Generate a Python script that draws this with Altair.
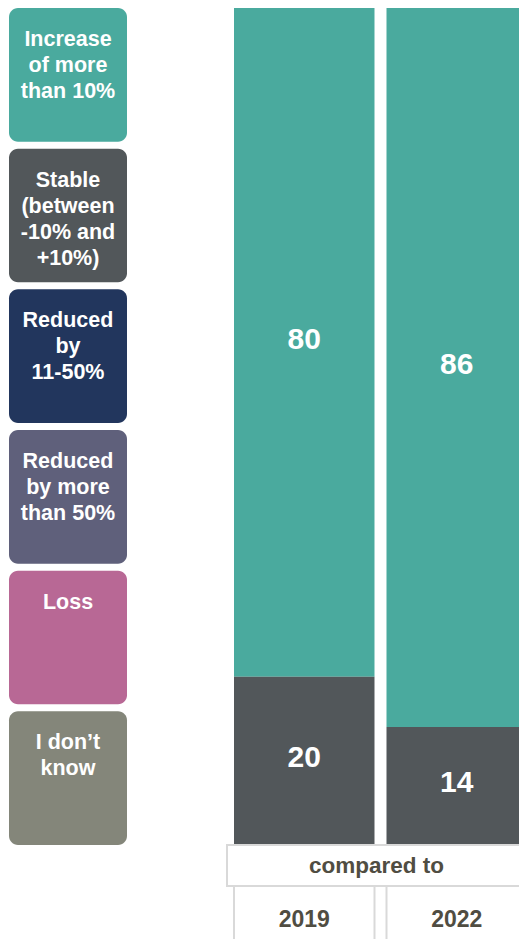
import altair as alt
import pandas as pd

# ---------------- data ----------------
categories = [
    "Increase of more than 10%",
    "Stable (between -10% and +10%)",
    "Reduced by 11-50%",
    "Reduced by more than 50%",
    "Loss",
    "I don't know",
]
tile_labels = [
    "Increase\nof more\nthan 10%",
    "Stable\n(between\n-10% and\n+10%)",
    "Reduced\nby\n11-50%",
    "Reduced\nby more\nthan 50%",
    "Loss",
    "I don\u2019t\nknow",
]
colors = ["#4aaa9e", "#52575a", "#22365d", "#5f607b", "#b86895", "#84867a"]
years = ["2019", "2022"]
values_2019 = [80, 20, 0, 0, 0, 0]
values_2022 = [86, 14, 0, 0, 0, 0]
header = ["compared to"]

FONT = "Liberation Sans"
TEXT_DARK = "#504d42"
BORDER = "#d9d9d9"

# ---------------- tables ----------------
legend_df = pd.DataFrame({"category": categories, "label": tile_labels})
rows = []
for y, vals in zip(years, [values_2019, values_2022]):
    for i, (c, v) in enumerate(zip(categories, vals)):
        rows.append({"year": y, "category": c, "idx": i, "value": v})
bars_df = pd.DataFrame(rows)
box_df = pd.DataFrame({"label": header})
cells_df = pd.DataFrame({"year": years})

color = alt.Color(
    "category:N", scale=alt.Scale(domain=categories, range=colors), legend=None
)

# ---------------- legend tiles ----------------
yband = alt.Scale(domain=categories, paddingInner=0.05, paddingOuter=0)
tiles = alt.Chart(legend_df).mark_rect(cornerRadius=9).encode(
    y=alt.Y("category:N", scale=yband, axis=None),
    x=alt.value(1),
    x2=alt.value(119),
    color=color,
)
tile_text = alt.Chart(legend_df).mark_text(
    align="center", baseline="top", lineBreak="\n", fontSize=21.5,
    fontWeight="bold", color="white", font=FONT, lineHeight=26, dy=21,
).encode(
    y=alt.Y("category:N", scale=yband, axis=None, bandPosition=0),
    x=alt.value(60),
    text="label:N",
)
legend = (tiles + tile_text).properties(width=120, height=837)

# ---------------- bars ----------------
RW = 293  # visible width of the right column (the reference is cropped at the right)
xscale = alt.Scale(domain=years, range=[8, 301], paddingInner=0.0787, paddingOuter=0)
yscale = alt.Scale(domain=[0, 100], nice=False, zero=True)
base = alt.Chart(bars_df).transform_stack(
    stack="value", groupby=["year"], as_=["v0", "v1"],
    sort=[alt.SortField("idx", order="descending")],
).transform_calculate(mid="(datum.v0 + datum.v1) / 2")

bar = base.mark_rect(clip=True).encode(
    x=alt.X("year:N", scale=xscale, axis=None),
    y=alt.Y("v0:Q", scale=yscale, axis=None),
    y2="v1:Q",
    color=color,
)
bar_text = base.transform_filter("datum.value > 0").mark_text(
    font=FONT, fontSize=30, fontWeight="bold", color="white",
    baseline="middle", align="center", dy=-2,
).encode(
    x=alt.X("year:N", scale=xscale, axis=None),
    y=alt.Y("mid:Q", scale=yscale, axis=None),
    text="value:Q",
)
bars = (bar + bar_text).properties(width=RW, height=836)

# ---------------- "compared to" box ----------------
box_rect = alt.Chart(box_df).mark_rect(
    fill="white", stroke=BORDER, strokeWidth=2, clip=True
).encode(x=alt.value(1), x2=alt.value(RW + 20), y=alt.value(1), y2=alt.value(42))
box_text = alt.Chart(box_df).mark_text(
    font=FONT, fontSize=22.5, fontWeight="bold", color=TEXT_DARK,
    baseline="middle", align="center",
).encode(x=alt.value(150.5), y=alt.value(22), text="label:N")
box = (box_rect + box_text).properties(width=RW, height=43)

# ---------------- year cells ----------------
rule_l = alt.Chart(cells_df).mark_rule(color=BORDER, strokeWidth=2, clip=True).encode(
    x=alt.X("year:N", scale=xscale, axis=None, bandPosition=0),
    y=alt.value(0), y2=alt.value(60),
)
rule_r = alt.Chart(cells_df).transform_filter(
    alt.datum.year != years[-1]
).mark_rule(color=BORDER, strokeWidth=2, clip=True).encode(
    x=alt.X("year:N", scale=xscale, axis=None, bandPosition=1),
    y=alt.value(0), y2=alt.value(60),
)
cell_text = alt.Chart(cells_df).mark_text(
    font=FONT, fontSize=23, fontWeight="bold", color=TEXT_DARK,
    baseline="middle", align="center",
).encode(
    x=alt.X("year:N", scale=xscale, axis=None),
    y=alt.value(33),
    text="year:N",
)
cells = (rule_l + rule_r + cell_text).properties(width=RW, height=52)

right = alt.vconcat(bars, box, cells, spacing=0)
chart = alt.hconcat(legend, right, spacing=98).properties(padding=0).configure_view(
    stroke=None
)

chart.save("out.html", embed_options={"renderer": "svg", "actions": False})
